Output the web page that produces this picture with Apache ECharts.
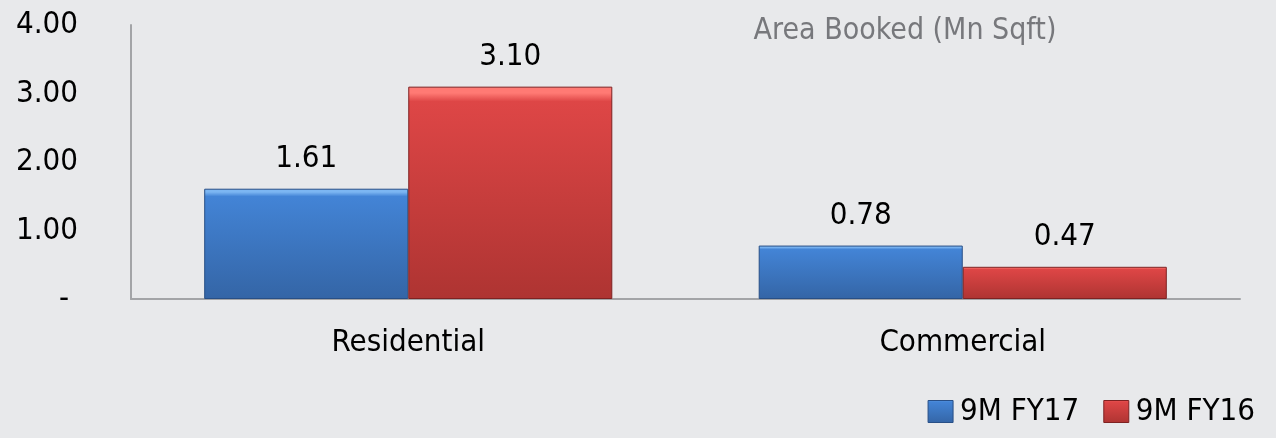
<!DOCTYPE html>
<html>
<head>
<meta charset="utf-8">
<script src="https://cdn.jsdelivr.net/npm/echarts@6/dist/echarts.min.js"></script>
<style>
  html, body { margin: 0; padding: 0; background: #e8e9eb; }
  #chart { width: 1276px; height: 438px; }
</style>
</head>
<body>
<div id="chart"></div>
<script>
// Area booked by segment, in million sq ft
const categories = ['Residential', 'Commercial'];
const fy17 = [1.61, 0.78];
const fy16 = [3.10, 0.47];
const seriesNames = ['9M FY17', '9M FY16'];
const yTicks = [0, 1, 2, 3, 4];

const FONT = '"DejaVu Sans Condensed", "Liberation Sans Narrow", "Roboto", sans-serif';
const FS = 31;

// Bevelled look: a bright rim at the top fading into the body colour
function bevel(rim, top, bottom) {
  return new echarts.graphic.LinearGradient(0, 0, 0, 1, [
    { offset: 0, color: rim },
    { offset: 0.03, color: rim },
    { offset: 0.07, color: top },
    { offset: 1, color: bottom }
  ]);
}
const blueFill = bevel('#7cb6f2', '#4384d6', '#3465a6');
const redFill = bevel('#ff7a74', '#de4646', '#ae3432');

const chart = echarts.init(document.getElementById('chart'));
chart.setOption({
  backgroundColor: '#e8e9eb',
  animation: false,
  title: {
    text: 'Area Booked (Mn Sqft)',
    left: 900, top: 11, textAlign: 'center',
    textStyle: { fontFamily: FONT, fontSize: 30, fontWeight: 'normal', color: '#77787c' }
  },
  legend: {
    right: 16, bottom: 6,
    icon: 'rect',
    itemWidth: 25, itemHeight: 22, itemGap: 24,
    textStyle: { fontFamily: FONT, fontSize: FS, color: '#000', padding: [0, 0, 0, 2] },
    data: [
      { name: seriesNames[0], itemStyle: { color: blueFill, borderColor: '#284f86', borderWidth: 1 } },
      { name: seriesNames[1], itemStyle: { color: redFill, borderColor: '#7e2222', borderWidth: 1 } }
    ]
  },
  grid: { left: 131, right: 36, top: 25, bottom: 139 },
  xAxis: {
    type: 'category',
    data: categories,
    axisLine: { lineStyle: { color: '#a3a4a7', width: 2 } },
    axisTick: { show: false },
    axisLabel: { fontFamily: FONT, fontSize: FS, color: '#000', margin: 28 }
  },
  yAxis: {
    type: 'value',
    min: yTicks[0], max: yTicks[yTicks.length - 1], interval: 1,
    axisLine: { show: true, lineStyle: { color: '#a3a4a7', width: 2 } },
    axisTick: { show: false },
    splitLine: { show: false },
    axisLabel: {
      fontFamily: FONT, fontSize: FS, color: '#000', margin: 53,
      formatter: v => (v === 0 ? '- ' : v.toFixed(2))
    }
  },
  series: [
    {
      name: seriesNames[0], type: 'bar', data: fy17,
      barWidth: '36.8%', barGap: '0%',
      itemStyle: { color: blueFill, borderColor: '#284f86', borderWidth: 1 },
      label: {
        show: true, position: 'top', distance: 14,
        fontFamily: FONT, fontSize: FS, color: '#000',
        formatter: p => p.value.toFixed(2)
      }
    },
    {
      name: seriesNames[1], type: 'bar', data: fy16,
      barWidth: '36.8%', barGap: '0%',
      itemStyle: { color: redFill, borderColor: '#7e2222', borderWidth: 1 },
      label: {
        show: true, position: 'top', distance: 14,
        fontFamily: FONT, fontSize: FS, color: '#000',
        formatter: p => p.value.toFixed(2)
      }
    }
  ]
});
</script>
</body>
</html>
